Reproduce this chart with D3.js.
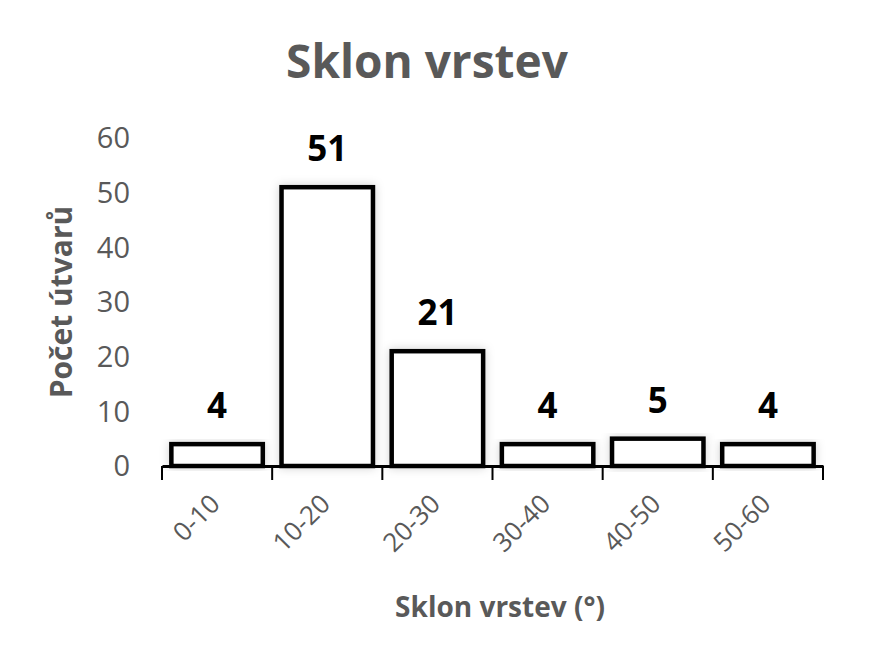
<!DOCTYPE html>
<html><head><meta charset="utf-8">
<script src="https://cdn.jsdelivr.net/npm/d3@7"></script>
<style>body{margin:0;background:#fff;} text{font-family:"Open Sans",sans-serif;}</style>
</head><body>
<svg id="c" width="890" height="662"></svg>
<script>
const categories = ["0-10","10-20","20-30","30-40","40-50","50-60"];
const values = [4,51,21,4,5,4];
const yTicks = [0,10,20,30,40,50,60];
const title = "Sklon vrstev";
const xTitle = "Sklon vrstev (°)";
const yTitle = "Počet útvarů";

const svg = d3.select("#c");
const grey = "#595959";
const x = d3.scaleBand().domain(categories).range([162, 823]).paddingInner(0.17).paddingOuter(0.085);
const y = d3.scaleLinear().domain([0,60]).range([466, 138]);

const defs = svg.append("defs");
const f = defs.append("filter").attr("id","sh").attr("x","-20%").attr("y","-20%").attr("width","140%").attr("height","140%");
f.append("feDropShadow").attr("dx",0).attr("dy",0).attr("stdDeviation",5).attr("flood-color","#000").attr("flood-opacity",0.18);

svg.append("text").attr("x",427).attr("y",78).attr("text-anchor","middle")
  .attr("font-size",46).attr("font-weight","bold").attr("fill",grey).text(title);

// y tick labels
svg.selectAll(".yl").data(yTicks).join("text")
  .attr("x",130).attr("y",d=>y(d)).attr("dy","0.36em").attr("text-anchor","end")
  .attr("font-size",29).attr("fill",grey).text(d=>d);

// bars
svg.selectAll(".bar").data(values).join("rect")
  .attr("x",(d,i)=>x(categories[i])).attr("width",x.bandwidth())
  .attr("y",d=>y(d)).attr("height",d=>y(0)-y(d))
  .attr("fill","#fff").attr("stroke","#000").attr("stroke-width",4.5)
  .attr("filter","url(#sh)");

// axis
const xAxis = d3.axisBottom(x).tickSize(0).tickFormat("");
const gx = svg.append("g").attr("transform","translate(0,466)").call(xAxis);
gx.select(".domain").attr("stroke","#000").attr("stroke-width",3);
const bounds = categories.map(c=>x(c)-x.step()*x.paddingInner()/2);
bounds.push(x(categories[5])+x.bandwidth()+x.step()*x.paddingInner()/2);
gx.selectAll(".tb").data(bounds).join("line")
  .attr("x1",d=>d).attr("x2",d=>d).attr("y1",0).attr("y2",14)
  .attr("stroke","#000").attr("stroke-width",2);

// x labels
svg.selectAll(".xl").data(categories).join("text")
  .attr("transform",d=>`translate(${x(d)+x.bandwidth()/2-2},499) rotate(-45)`)
  .attr("text-anchor","end").attr("dy","0.35em")
  .attr("font-size",26).attr("fill",grey).text(d=>d);

// value labels
svg.selectAll(".vl").data(values).join("text")
  .attr("x",(d,i)=>x(categories[i])+x.bandwidth()/2).attr("y",d=>y(d)-26)
  .attr("text-anchor","middle").attr("font-size",35).attr("font-weight","bold")
  .attr("fill","#000").text(d=>d);

svg.append("text").attr("x",500).attr("y",617).attr("text-anchor","middle")
  .attr("font-size",28).attr("font-weight","bold").attr("fill",grey).text(xTitle);

svg.append("text").attr("transform","translate(72,302) rotate(-90)").attr("text-anchor","middle")
  .attr("font-size",30).attr("font-weight","bold").attr("fill",grey).text(yTitle);
</script>
</body></html>
